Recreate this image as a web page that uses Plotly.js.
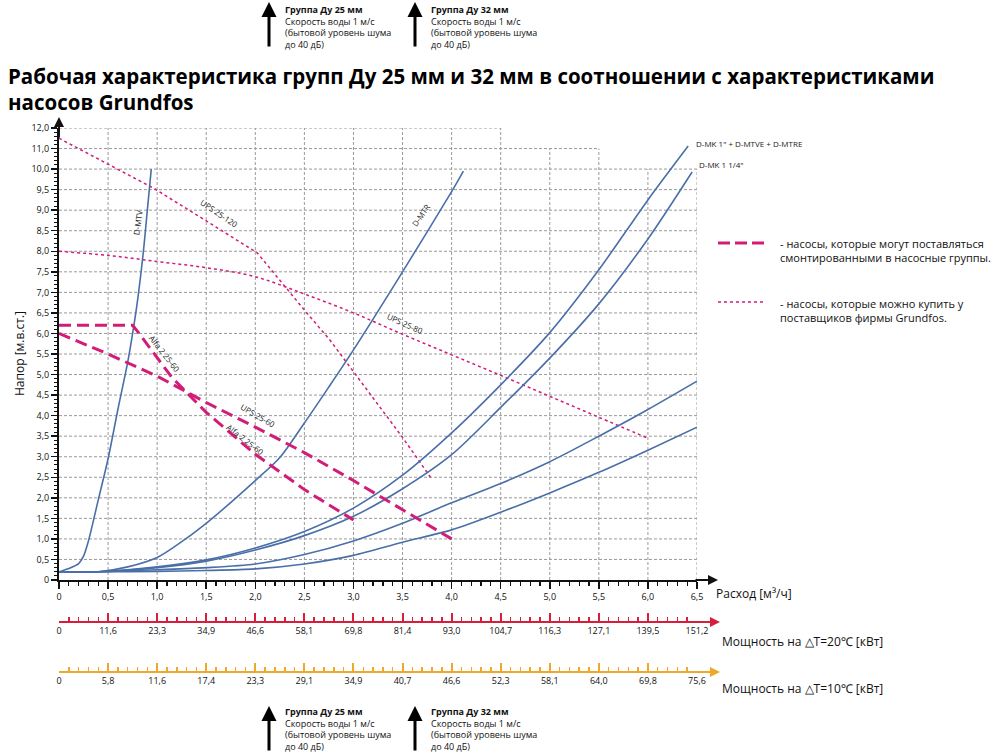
<!DOCTYPE html>
<html>
<head>
<meta charset="utf-8">
<script src="https://cdn.plot.ly/plotly-3.0.1.min.js"></script>
<style>
  html, body { margin: 0; padding: 0; background: #fff; }
  #chart { width: 1000px; height: 755px; }
</style>
</head>
<body>
<div id="chart"></div>
<script>
// flow axis ticks and the two power scales under it
const flowTicks = [0, 0.5, 1, 1.5, 2, 2.5, 3, 3.5, 4, 4.5, 5, 5.5, 6, 6.5];
const flowLabels = ['0', '0,5', '1,0', '1,5', '2,0', '2,5', '3,0', '3,5', '4,0', '4,5', '5,0', '5,5', '6,0', '6,5'];
const power20 = ['0', '11,6', '23,3', '34,9', '46,6', '58,1', '69,8', '81,4', '93,0', '104,7', '116,3', '127,1', '139,5', '151,2'];
const power10 = ['0', '5,8', '11,6', '17,4', '23,3', '29,1', '34,9', '40,7', '46,6', '52,3', '58,1', '64,0', '69,8', '75,6'];

// head axis: 0..10 in steps of 0.5, then 11 and 12 at the same spacing
const headTicks = [0, 0.5, 1, 1.5, 2, 2.5, 3, 3.5, 4, 4.5, 5, 5.5, 6, 6.5, 7, 7.5, 8, 8.5, 9, 9.5, 10, 11, 12];
const headLabels = ['0', '0,5', '1,0', '1,5', '2,0', '2,5', '3,0', '3,5', '4,0', '4,5', '5,0', '5,5', '6,0', '6,5',
  '7,0', '7,5', '8,0', '8,5', '9,0', '9,5', '10,0', '11,0', '12,0'];

// pipe groups (blue)
const mtvX = [0, 0.1, 0.2, 0.25, 0.3, 0.4, 0.5, 0.6, 0.7, 0.75, 0.8, 0.86, 0.9, 0.94];
const mtvY = [0.2, 0.28, 0.4, 0.58, 0.95, 1.95, 2.95, 4.15, 5.3, 6.0, 6.8, 8.0, 9.0, 10.0];
const mtrX = [0, 0.4, 0.7, 1.0, 1.2, 1.5, 2.0, 2.25, 2.5, 2.75, 3.0, 3.5, 4.0, 4.12];
const mtrY = [0.2, 0.2, 0.32, 0.55, 0.85, 1.38, 2.42, 2.98, 3.82, 4.7, 5.6, 7.5, 9.45, 9.95];
const mk1X = [0, 0.4, 1.0, 1.5, 2.0, 2.5, 3.0, 3.5, 4.0, 4.5, 5.0, 5.5, 6.0, 6.41];
const mk1Y = [0.2, 0.2, 0.32, 0.49, 0.78, 1.18, 1.75, 2.55, 3.58, 4.75, 6.02, 7.55, 9.25, 11.12];
const mk114X = [0, 0.4, 1.0, 1.5, 2.0, 2.5, 3.0, 3.5, 4.0, 4.5, 5.0, 5.5, 6.0, 6.45];
const mk114Y = [0.2, 0.2, 0.3, 0.46, 0.73, 1.08, 1.55, 2.22, 3.05, 4.2, 5.4, 6.72, 8.3, 9.93];
const uk1X = [0, 0.4, 1.0, 1.5, 2.0, 2.5, 3.0, 3.5, 4.0, 4.5, 5.0, 5.5, 6.0, 6.5];
const uk1Y = [0.2, 0.2, 0.25, 0.3, 0.39, 0.62, 0.95, 1.38, 1.88, 2.35, 2.88, 3.5, 4.15, 4.84];
const uk114X = [0, 0.4, 1.0, 1.5, 2.0, 2.5, 3.0, 3.5, 4.0, 4.5, 5.0, 5.5, 6.0, 6.5];
const uk114Y = [0.2, 0.2, 0.21, 0.23, 0.27, 0.39, 0.6, 0.92, 1.22, 1.65, 2.12, 2.62, 3.16, 3.72];

// pumps mounted in groups (dashed)
const alfaX = [0, 0.75, 0.8, 1.0, 1.15, 1.5, 2.0, 2.5, 3.0];
const alfaY = [6.2, 6.2, 6.05, 5.4, 4.93, 4.08, 3.06, 2.2, 1.46];
const ups60X = [0, 0.5, 1.0, 1.5, 2.0, 2.5, 3.0, 3.5, 4.0];
const ups60Y = [6.0, 5.5, 4.96, 4.32, 3.72, 3.1, 2.42, 1.72, 1.0];

// pumps from Grundfos dealers (dotted)
const ups120X = [0, 0.6, 0.96, 1.5, 2.02, 2.5, 2.76, 3.0, 3.5, 3.8];
const ups120Y = [11.5, 10.0, 9.54, 8.74, 7.96, 6.57, 5.84, 5.07, 3.47, 2.45];
const ups80X = [0, 0.5, 1.0, 1.5, 2.0, 2.5, 3.0, 3.5, 4.0, 4.5, 5.0, 5.5, 6.0];
const ups80Y = [8.0, 7.9, 7.75, 7.6, 7.38, 6.96, 6.5, 5.98, 5.48, 4.98, 4.47, 3.96, 3.45];

const BLUE = '#4a6fa8';
const PINK = '#d31c78';
const RED = '#d71f3c';
const ORANGE = '#efa82c';
const FONT = 'Open Sans, Noto Sans, sans-serif';

// above 10 m the scale is compressed by half
function headPos(v) { return v <= 10 ? v : 10 + (v - 10) / 2; }

// page pixels -> paper coords (plot box 59..697 x 128..700)
function px(x) { return (x - 59) / 638; }
function py(y) { return (700 - y) / 572; }

function blue(x, y) {
  return { x: x, y: y.map(headPos), type: 'scatter', mode: 'lines', hoverinfo: 'skip',
    line: { color: BLUE, width: 1.6, shape: 'spline', smoothing: 0.8 } };
}
function dashed(x, y) {
  return { x: x, y: y.map(headPos), type: 'scatter', mode: 'lines', hoverinfo: 'skip',
    line: { color: PINK, width: 3, dash: '12px,6px' } };
}
function dotted(x, y, shape) {
  return { x: x, y: y.map(headPos), type: 'scatter', mode: 'lines', hoverinfo: 'skip',
    line: { color: PINK, width: 1.5, dash: '3px,3px', shape: shape || 'linear' } };
}

const data = [
  dotted(ups120X, ups120Y),
  dotted(ups80X, ups80Y, 'spline'),
  blue(mtvX, mtvY), blue(mtrX, mtrY), blue(mk1X, mk1Y), blue(mk114X, mk114Y),
  blue(uk1X, uk1Y), blue(uk114X, uk114Y),
  dashed(alfaX, alfaY), dashed(ups60X, ups60Y),
  // carriers for the two power scales
  { x: flowTicks, y: flowTicks.map(() => 0), xaxis: 'x2', type: 'scatter', mode: 'markers',
    marker: { opacity: 0 }, hoverinfo: 'skip' },
  { x: flowTicks, y: flowTicks.map(() => 0), xaxis: 'x3', type: 'scatter', mode: 'markers',
    marker: { opacity: 0 }, hoverinfo: 'skip' }
];

// dotted grid, shorter in the compressed zone
const headGrid = headTicks.map(headPos).filter(p => p > 0);
const shapes = [];
flowTicks.filter(v => v > 0).forEach(v => {
  const top = v <= 4.5 ? headPos(12) : (v <= 5.5 ? headPos(11) : headPos(10));
  shapes.push({ type: 'line', layer: 'below', xref: 'x', yref: 'y', x0: v, x1: v, y0: 0, y1: top,
    line: { color: '#9a9a9a', width: 1, dash: '3px,2px' } });
});
headGrid.forEach(p => {
  const right = p <= 10 ? 6.5 : (p <= headPos(11) ? 5.5 : 4.5);
  shapes.push({ type: 'line', layer: 'below', xref: 'x', yref: 'y', x0: 0, x1: right, y0: p, y1: p,
    line: { color: '#9a9a9a', width: 1, dash: '3px,2px' } });
});
// legend samples
shapes.push({ type: 'line', xref: 'paper', yref: 'paper', x0: px(718), x1: px(766), y0: py(243), y1: py(243),
  line: { color: PINK, width: 3, dash: '12px,5px' } });
shapes.push({ type: 'line', xref: 'paper', yref: 'paper', x0: px(718), x1: px(766), y0: py(302), y1: py(302),
  line: { color: PINK, width: 1.5, dash: '3px,3px' } });

function curveLabel(text, x, y, angle, anchor) {
  return { text: text, x: x, y: y, xref: 'x', yref: 'y', showarrow: false, textangle: angle || 0,
    xanchor: anchor || 'center', yanchor: 'middle', font: { family: FONT, size: 8, color: '#222' } };
}
function axisArrow(xTip, yTip, ax, ay, color, w) {
  return { x: xTip, y: yTip, xref: 'paper', yref: 'paper', text: '', showarrow: true,
    ax: ax, ay: ay, arrowhead: 2, arrowsize: 1, arrowwidth: w, arrowcolor: color, standoff: 0 };
}
function paperText(text, x, y, size, opts) {
  return Object.assign({ text: text, x: px(x), y: py(y), xref: 'paper', yref: 'paper', showarrow: false,
    xanchor: 'left', yanchor: 'middle', align: 'left', font: { family: FONT, size: size, color: '#111' } }, opts || {});
}
function groupNote(title, xText, yText) {
  return paperText('<b>' + title + '</b><br>Скорость воды 1 м/с<br>(бытовой уровень шума<br>до 40 дБ)',
    xText, yText, 9, { yanchor: 'top' });
}

const annotations = [
  curveLabel('D-MTV', 0.8, 8.7, -82),
  curveLabel('UPS 25-120', 1.64, 8.93, 34),
  curveLabel('Alfa 2 25-60', 1.08, 5.52, 52),
  curveLabel('UPS 25-60', 2.03, 4.01, 30),
  curveLabel('Alfa 2 25-60', 1.9, 3.41, 38),
  curveLabel('D-MTR', 3.68, 8.88, -55),
  curveLabel('UPS 25-80', 3.53, 6.25, 24),
  curveLabel('D-UK 1"', 6.66, 5.11, -45),
  curveLabel('D-UK 1 1/4"', 6.71, 4.09, -45),
  curveLabel('D-MK 1" + D-MTVE + D-MTRE', 6.47, 10.62, 0, 'left'),
  curveLabel('D-MK 1 1/4"', 6.5, 10.1, 0, 'left'),
  // axis arrows
  axisArrow(px(59), py(117), 0, 22, '#111', 2),
  axisArrow(px(718), py(580), -24, 0, '#111', 2),
  axisArrow(px(720), py(622), -26, 0, RED, 2),
  axisArrow(px(720), py(672), -26, 0, ORANGE, 2),
  // axis titles
  paperText('Напор [м.в.ст.]', 19, 354, 12, { textangle: -90, xanchor: 'center' }),
  paperText('Расход [м³/ч]', 714, 593, 12),
  paperText('Мощность на △T=20℃ [кВт]', 720, 641, 12),
  paperText('Мощность на △T=10℃ [кВт]', 720, 688, 12),
  // legend texts
  paperText('- насосы, которые могут поставляться<br>смонтированными в насосные группы.', 778, 250, 11),
  paperText('- насосы, которые можно купить у<br>поставщиков фирмы Grundfos.', 778, 310, 11),
  // group arrows top and bottom
  axisArrow(px(269), py(2), 0, 46, '#000', 3),
  axisArrow(px(415), py(2), 0, 46, '#000', 3),
  axisArrow(px(269), py(706), 0, 46, '#000', 3),
  axisArrow(px(415), py(706), 0, 46, '#000', 3),
  groupNote('Группа Ду 25 мм', 283, 1),
  groupNote('Группа Ду 32 мм', 429, 1),
  groupNote('Группа Ду 25 мм', 283, 703),
  groupNote('Группа Ду 32 мм', 429, 703)
];

function powerAxis(pos, color, labels) {
  return { overlaying: 'x', anchor: 'free', position: pos, range: [0, 6.5], showgrid: false, zeroline: false,
    showline: true, linecolor: color, linewidth: 2, ticks: 'inside', ticklen: 8, tickwidth: 2, tickcolor: color,
    tickmode: 'array', tickvals: flowTicks, ticktext: labels, tickfont: { family: FONT, size: 9, color: '#111' },
    minor: { ticks: 'inside', dtick: 0.1, tick0: 0, ticklen: 4, tickwidth: 1.5, tickcolor: color } };
}

const layout = {
  width: 1000, height: 755,
  margin: { l: 59, r: 303, t: 128, b: 55 },
  paper_bgcolor: '#fff', plot_bgcolor: 'rgba(0,0,0,0)',
  showlegend: false, hovermode: false,
  font: { family: FONT, color: '#111' },
  title: {
    text: 'Рабочая характеристика групп Ду 25 мм и 32 мм в соотношении с характеристиками<br>насосов Grundfos',
    x: 0.008, xanchor: 'left', xref: 'container', y: 1 - 83.5 / 755, yanchor: 'middle', yref: 'container',
    font: { family: FONT, size: 20.5, color: '#000', weight: 'bold' }
  },
  xaxis: {
    range: [0, 6.5], domain: [0, 1], anchor: 'y', showgrid: false, zeroline: false,
    showline: true, linecolor: '#111', linewidth: 2, ticks: 'outside', ticklen: 7, tickwidth: 1.5, tickcolor: '#111',
    tickmode: 'array', tickvals: flowTicks, ticktext: flowLabels, tickfont: { family: FONT, size: 9, color: '#111' },
    minor: { ticks: 'outside', dtick: 0.1, tick0: 0, ticklen: 4, tickwidth: 1.2, tickcolor: '#111' }
  },
  xaxis2: powerAxis(py(622), RED, power20),
  xaxis3: powerAxis(py(672), ORANGE, power10),
  yaxis: {
    range: [0, headPos(12)], domain: [py(580), 1], showgrid: false, zeroline: false,
    showline: true, linecolor: '#111', linewidth: 2, ticks: 'outside', ticklen: 6, tickwidth: 1.5, tickcolor: '#111',
    tickmode: 'array', tickvals: headTicks.map(headPos), ticktext: headLabels,
    tickfont: { family: FONT, size: 9, color: '#111' },
    minor: { ticks: 'outside', dtick: 0.1, tick0: 0, ticklen: 3, tickwidth: 1, tickcolor: '#111' }
  },
  shapes: shapes,
  annotations: annotations
};

Plotly.newPlot('chart', data, layout, { displayModeBar: false, staticPlot: true });
</script>
</body>
</html>
